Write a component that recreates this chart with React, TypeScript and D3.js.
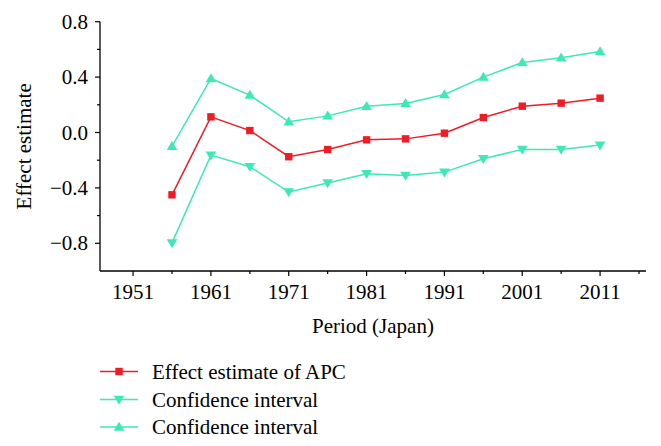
import React from "react";
import * as d3 from "d3";

const periods = [1956, 1961, 1966, 1971, 1976, 1981, 1986, 1991, 1996, 2001, 2006, 2011];
const estimate = [-0.45, 0.113, 0.014, -0.175, -0.123, -0.053, -0.046, -0.005, 0.108, 0.19, 0.212, 0.248];
const lowerCI = [-0.797, -0.163, -0.247, -0.43, -0.365, -0.298, -0.31, -0.286, -0.19, -0.122, -0.122, -0.091];
const upperCI = [-0.10, 0.39, 0.27, 0.077, 0.12, 0.19, 0.21, 0.274, 0.40, 0.505, 0.54, 0.585];
const xTicks = [1951, 1961, 1971, 1981, 1991, 2001, 2011];
const xMinor = [1956, 1966, 1976, 1986, 1996, 2006, 2016];
const yTicks = [0.8, 0.4, 0.0, -0.4, -0.8];
const yMinor = [0.6, 0.2, -0.2, -0.6];
const legendLabels = ["Effect estimate of APC", "Confidence interval", "Confidence interval"];

const RED = "#ee1c25";
const CYAN = "#3de9b6";
const FONT = "'Liberation Serif', 'DejaVu Serif', serif";
const FS = 21;

export default function App() {
  const left = 100, right = 646, top = 21.7, bottom = 271;
  const x = d3.scaleLinear().domain([1946.75, 2016.9]).range([left, right]);
  const y = d3.scaleLinear().domain([-1.0, 0.8]).range([bottom, top]);
  const line = d3.line<number>().x((_, i) => x(periods[i])).y((v) => y(v));

  const fmt = (v: number) => (v < 0 ? "\u2212" + Math.abs(v).toFixed(1) : v.toFixed(1));

  const square = (cx: number, cy: number, k: string | number) => (
    <rect key={k} x={cx - 3.7} y={cy - 3.7} width={7.4} height={7.4} fill={RED} />
  );
  const triUp = (cx: number, cy: number, k: string | number) => (
    <path key={k} d={`M${cx},${cy - 5.3} L${cx + 5.3},${cy + 3.7} L${cx - 5.3},${cy + 3.7} Z`} fill={CYAN} />
  );
  const triDown = (cx: number, cy: number, k: string | number) => (
    <path key={k} d={`M${cx},${cy + 5.3} L${cx + 5.3},${cy - 3.7} L${cx - 5.3},${cy - 3.7} Z`} fill={CYAN} />
  );

  const series = [
    { vals: estimate, color: RED, marker: square },
    { vals: lowerCI, color: CYAN, marker: triDown },
    { vals: upperCI, color: CYAN, marker: triUp },
  ];

  const legendY = [371.5, 399.5, 427];

  return (
    <svg width={661} height={446} style={{ position: "absolute", left: 0, top: 0, background: "#fff" }} fontFamily={FONT}>
      <line x1={left} x2={left} y1={top} y2={bottom} stroke="#000" strokeWidth={1.3} />
      <line x1={left} x2={right} y1={bottom} y2={bottom} stroke="#000" strokeWidth={1.3} />
      {yTicks.map((t) => (
        <g key={"yt" + t}>
          <line x1={left - 5} x2={left} y1={y(t)} y2={y(t)} stroke="#000" strokeWidth={1.2} />
          <text x={88} y={y(t)} dy="0.34em" textAnchor="end" fontSize={FS}>{fmt(t)}</text>
        </g>
      ))}
      {yMinor.map((t) => (
        <line key={"ym" + t} x1={left - 3} x2={left} y1={y(t)} y2={y(t)} stroke="#000" strokeWidth={1.2} />
      ))}
      {xTicks.map((t) => (
        <g key={"xt" + t}>
          <line x1={x(t)} x2={x(t)} y1={bottom} y2={bottom + 5} stroke="#000" strokeWidth={1.2} />
          <text x={x(t)} y={299} textAnchor="middle" fontSize={FS}>{t}</text>
        </g>
      ))}
      {xMinor.map((t) => (
        <line key={"xm" + t} x1={x(t)} x2={x(t)} y1={bottom} y2={bottom + 3} stroke="#000" strokeWidth={1.2} />
      ))}
      <text x={(left + right) / 2} y={333} textAnchor="middle" fontSize={FS}>Period (Japan)</text>
      <text transform={`translate(31,${(top + bottom) / 2}) rotate(-90)`} textAnchor="middle" fontSize={FS}>Effect estimate</text>

      {series.map((s, si) => (
        <g key={"s" + si}>
          <path d={line(s.vals) || ""} fill="none" stroke={s.color} strokeWidth={1.5} />
          {s.vals.map((v, i) => s.marker(x(periods[i]), y(v), i))}
        </g>
      ))}

      {series.map((s, si) => (
        <g key={"l" + si}>
          <line x1={100} x2={138} y1={legendY[si]} y2={legendY[si]} stroke={s.color} strokeWidth={1.5} />
          {s.marker(119, legendY[si], "m")}
          <text x={152} y={legendY[si]} dy="0.34em" fontSize={FS}>{legendLabels[si]}</text>
        </g>
      ))}
    </svg>
  );
}
